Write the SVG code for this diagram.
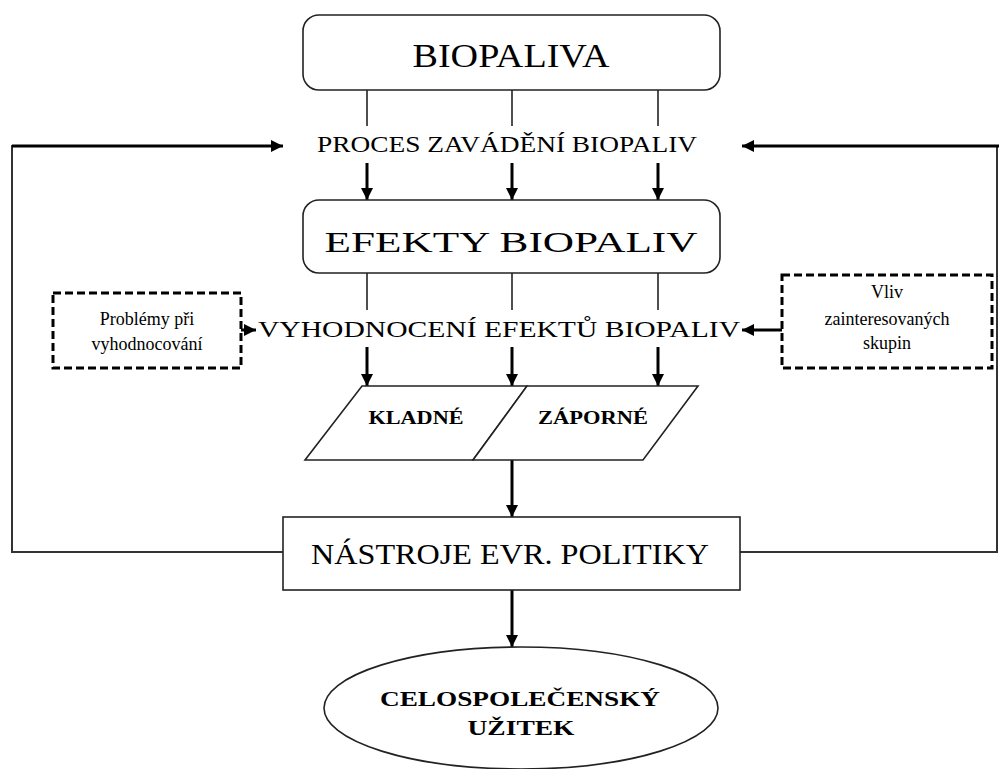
<svg xmlns="http://www.w3.org/2000/svg" width="999" height="769" viewBox="0 0 999 769">
<defs>
<marker id="ah" viewBox="0 0 10 10" refX="10" refY="5" markerWidth="14" markerHeight="12" markerUnits="userSpaceOnUse" orient="auto">
<path d="M0,0 L10,5 L0,10 z" fill="#000"/>
</marker>
</defs>
<style>
text{font-family:"Liberation Serif","DejaVu Serif",serif;fill:#000}
.box{fill:#fff;stroke:#222;stroke-width:1.6}
.dash{fill:#fff;stroke:#000;stroke-width:3;stroke-dasharray:8 4}
.thin{fill:none;stroke:#222;stroke-width:1.6}
.arr{fill:none;stroke:#000;stroke-width:3;marker-end:url(#ah)}
.loop{fill:none;stroke:#333;stroke-width:2}
.small{font-size:18px}
</style>
<rect width="999" height="769" fill="#fff"/>
<g id="connectors">
<line class="thin" x1="367" y1="90" x2="367" y2="126"/>
<line class="thin" x1="512" y1="90" x2="512" y2="126"/>
<line class="thin" x1="658" y1="90" x2="658" y2="126"/>
<line class="arr" x1="367" y1="163" x2="367" y2="200"/>
<line class="arr" x1="512" y1="163" x2="512" y2="200"/>
<line class="arr" x1="658" y1="163" x2="658" y2="200"/>
<line class="thin" x1="367" y1="273" x2="367" y2="310"/>
<line class="thin" x1="512" y1="273" x2="512" y2="310"/>
<line class="thin" x1="658" y1="273" x2="658" y2="310"/>
<line class="arr" x1="367" y1="347" x2="367" y2="386"/>
<line class="arr" x1="512" y1="347" x2="512" y2="386"/>
<line class="arr" x1="658" y1="347" x2="658" y2="386"/>
<line class="arr" x1="241" y1="330" x2="256" y2="330"/>
<line class="arr" x1="782" y1="330" x2="742" y2="330"/>
<line class="arr" x1="512" y1="460" x2="512" y2="517"/>
<line class="arr" x1="512" y1="590" x2="512" y2="647"/>
<polyline class="loop" points="283,552 12,552 12,146 14,146"/>
<line class="arr" x1="12" y1="146" x2="283" y2="146"/>
<polyline class="loop" points="740,552 997,552 997,146"/>
<line class="arr" x1="999" y1="146" x2="742" y2="146"/>
</g>
<g id="biopaliva">
<rect class="box" x="303" y="15" width="417" height="75" rx="16"/>
<text x="511" y="67" font-size="33" text-anchor="middle" textLength="197" lengthAdjust="spacingAndGlyphs">BIOPALIVA</text>
</g>
<g id="proces">
<text x="507" y="152" font-size="24" text-anchor="middle" textLength="380" lengthAdjust="spacingAndGlyphs">PROCES ZAVÁDĚNÍ BIOPALIV</text>
</g>
<g id="efekty">
<rect class="box" x="303" y="200" width="417" height="73" rx="16"/>
<text x="511" y="252" font-size="30" text-anchor="middle" textLength="373" lengthAdjust="spacingAndGlyphs">EFEKTY BIOPALIV</text>
</g>
<g id="vyhodnoceni">
<text x="499" y="337" font-size="24" text-anchor="middle" textLength="482" lengthAdjust="spacingAndGlyphs">VYHODNOCENÍ EFEKTŮ BIOPALIV</text>
</g>
<g id="problemy">
<rect class="dash" x="53" y="293" width="188" height="75"/>
<text class="small" x="147" y="325" text-anchor="middle">Problémy při</text>
<text class="small" x="147" y="350" text-anchor="middle">vyhodnocování</text>
</g>
<g id="vliv">
<rect class="dash" x="782" y="275" width="210" height="93"/>
<text class="small" x="887" y="298" text-anchor="middle">Vliv</text>
<text class="small" x="887" y="325" text-anchor="middle">zainteresovaných</text>
<text class="small" x="887" y="349" text-anchor="middle">skupin</text>
</g>
<g id="kladne">
<polygon class="box" points="362,386 527,386 473,460 305,460"/>
<text x="416" y="424" font-size="19" font-weight="bold" text-anchor="middle" textLength="95" lengthAdjust="spacingAndGlyphs">KLADNÉ</text>
</g>
<g id="zaporne">
<polygon class="box" points="527,386 698,386 643,460 473,460"/>
<text x="593" y="424" font-size="19" font-weight="bold" text-anchor="middle" textLength="110" lengthAdjust="spacingAndGlyphs">ZÁPORNÉ</text>
</g>
<g id="nastroje">
<rect class="box" x="283" y="517" width="457" height="73"/>
<text x="510" y="564" font-size="29" text-anchor="middle" textLength="398" lengthAdjust="spacingAndGlyphs">NÁSTROJE EVR. POLITIKY</text>
</g>
<g id="uzitek">
<ellipse class="box" cx="521" cy="708" rx="197" ry="61"/>
<text x="520" y="706" font-size="22" font-weight="bold" text-anchor="middle" textLength="280" lengthAdjust="spacingAndGlyphs">CELOSPOLEČENSKÝ</text>
<text x="521" y="735" font-size="22" font-weight="bold" text-anchor="middle" textLength="107" lengthAdjust="spacingAndGlyphs">UŽITEK</text>
</g>
</svg>
